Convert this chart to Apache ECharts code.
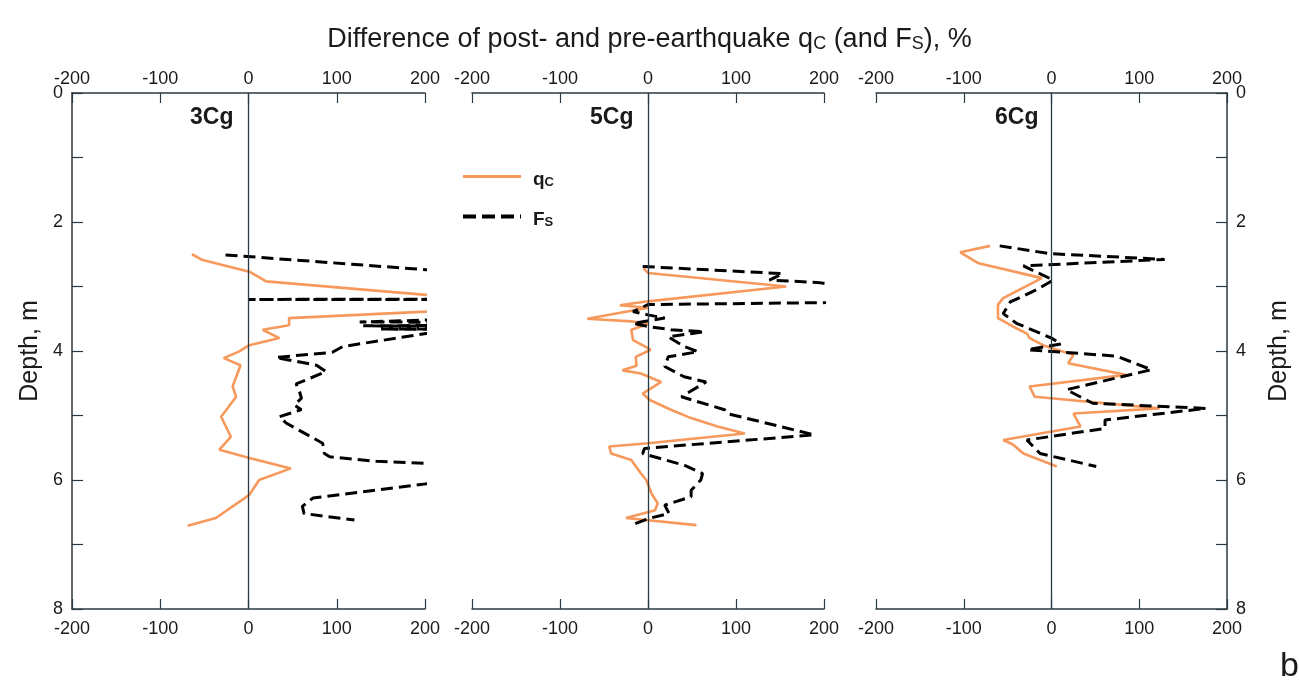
<!DOCTYPE html>
<html>
<head>
<meta charset="utf-8">
<script src="https://cdn.jsdelivr.net/npm/echarts@6/dist/echarts.min.js"></script>
<style>
  html, body { margin: 0; padding: 0; background: #fff; }
  #chart { width: 1299px; height: 687px; }
</style>
</head>
<body>
<div id="chart"></div>
<script>
// tick values
const xTicks = [-200, -100, 0, 100, 200];
const depthMin = 0;
const depthMax = 8;

const panelNames = ['3Cg', '5Cg', '6Cg'];

// [difference %, depth m]; values past 200 run off the panel edge
const qc3 = [[-64,2.50],[-52,2.59],[1,2.77],[20,2.92],[201,3.13],[300,3.25],[201,3.39],[46,3.49],[46,3.60],[16,3.67],[35,3.80],[1,3.91],[-11,4.01],[-28,4.11],[-9,4.22],[-18,4.55],[-14,4.71],[-31,5.02],[-20,5.33],[-33,5.53],[1,5.66],[48,5.82],[12,6.0],[1,6.23],[-37,6.59],[-69,6.71]];
const fs3 = [[-26,2.51],[201,2.74],[1000,3.19],[0,3.20],[1000,3.21],[126,3.55],[600,3.57],[130,3.61],[600,3.63],[150,3.66],[600,3.69],[201,3.73],[107,3.93],[95,4.02],[31,4.10],[77,4.22],[88,4.32],[54,4.51],[58,4.64],[60,4.73],[52,4.84],[60,4.91],[35,5.02],[43,5.12],[84,5.43],[86,5.59],[92,5.64],[145,5.71],[201,5.74],[1000,5.9],[201,6.06],[73,6.28],[61,6.41],[63,6.52],[120,6.62]];

const qc5 = [[-5,2.72],[0,2.79],[157,3.0],[0,3.23],[-32,3.29],[0,3.33],[-69,3.50],[-19,3.54],[0,3.58],[-19,3.67],[-17,3.83],[3,3.98],[-14,4.09],[-13,4.23],[-29,4.30],[-8,4.35],[15,4.48],[-6,4.66],[2,4.76],[26,4.91],[49,5.04],[79,5.17],[110,5.28],[0,5.43],[-44,5.48],[-42,5.59],[-19,5.69],[-8,5.90],[-2,6.0],[4,6.21],[11,6.36],[8,6.47],[-25,6.59],[55,6.70]];
const fs5 = [[-6,2.69],[153,2.80],[138,2.90],[195,2.94],[260,3.1],[202,3.25],[0,3.28],[-17,3.39],[0,3.44],[19,3.49],[-17,3.57],[0,3.62],[26,3.67],[64,3.70],[23,3.78],[41,3.93],[57,4.01],[23,4.09],[19,4.24],[41,4.40],[66,4.48],[38,4.71],[87,4.91],[90,4.97],[189,5.30],[-4,5.51],[-6,5.59],[41,5.77],[62,5.90],[60,6.0],[49,6.16],[49,6.26],[19,6.39],[24,6.52],[0,6.60],[-19,6.70]];

const qc6 = [[-70,2.37],[-104,2.47],[-83,2.64],[-11,2.87],[-55,3.18],[-61,3.28],[-61,3.49],[-44,3.62],[-28,3.73],[-25,3.80],[-8,3.92],[25,4.06],[19,4.19],[85,4.37],[-25,4.55],[-19,4.71],[123,4.89],[25,4.97],[33,5.17],[-55,5.38],[-44,5.45],[-32,5.59],[6,5.79]];
const fs6 = [[-59,2.37],[-2,2.49],[129,2.58],[-32,2.68],[2,2.90],[-17,3.05],[-47,3.24],[-55,3.42],[-40,3.57],[0,3.80],[11,3.89],[-27,3.98],[74,4.08],[114,4.29],[17,4.60],[47,4.81],[176,4.89],[61,5.07],[61,5.20],[-28,5.38],[-13,5.59],[51,5.79]];

const qcData = [qc3, qc5, qc6];
const fsData = [fs3, fs5, fs6];

const FONT = 'Liberation Sans, Arial, sans-serif';
const AXIS_COLOR = '#2b3a42';
const TEXT_COLOR = '#1a1a1a';
const ORANGE = '#f7995c';

const chart = echarts.init(document.getElementById('chart'));

const gridLefts = [72, 472, 876];
const gridWidths = [353, 352, 351];

const grids = gridLefts.map((l, i) => ({
  left: l, top: 93, width: gridWidths[i], height: 516, containLabel: false
}));

const xAxes = [];
gridLefts.forEach((l, i) => {
  ['top', 'bottom'].forEach(pos => {
    xAxes.push({
      type: 'value',
      gridIndex: i,
      position: pos,
      min: xTicks[0],
      max: xTicks[xTicks.length - 1],
      interval: 100,
      axisLine: { show: true, onZero: false, lineStyle: { color: AXIS_COLOR, width: 1.5 } },
      axisTick: { show: true, inside: true, length: 10, lineStyle: { color: AXIS_COLOR, width: 1.2 } },
      axisLabel: { show: true, color: TEXT_COLOR, fontSize: 18, fontFamily: FONT, margin: pos === 'top' ? 5 : 11 },
      splitLine: { show: false }
    });
  });
});

const yAxes = gridLefts.map((l, i) => ({
  type: 'value',
  gridIndex: i,
  show: i !== 1,
  position: i === 2 ? 'right' : 'left',
  inverse: true,
  min: depthMin,
  max: depthMax,
  interval: 1,
  name: 'Depth, m',
  nameLocation: 'middle',
  nameGap: i === 2 ? 40 : 29,
  nameTextStyle: { color: TEXT_COLOR, fontSize: 25, fontFamily: FONT },
  axisLine: { show: true, onZero: false, lineStyle: { color: AXIS_COLOR, width: 1.5 } },
  axisTick: { show: true, inside: true, length: 11, lineStyle: { color: AXIS_COLOR, width: 1.2 } },
  axisLabel: {
    color: TEXT_COLOR, fontSize: 18, fontFamily: FONT, margin: 9,
    formatter: v => (v % 2 === 0 ? String(v) : '')
  },
  splitLine: { show: false }
}));

const series = [];
for (let i = 0; i < 3; i++) {
  series.push({
    name: 'qC',
    type: 'line',
    xAxisIndex: i * 2 + 1,
    yAxisIndex: i,
    data: qcData[i],
    symbol: 'none',
    clip: true,
    lineStyle: { color: ORANGE, width: 2.6 },
    itemStyle: { color: ORANGE },
    z: 3,
    markLine: {
      silent: true,
      symbol: 'none',
      label: { show: false },
      lineStyle: { color: AXIS_COLOR, width: 1.3, type: 'solid' },
      data: [{ xAxis: 0 }]
    }
  });
  series.push({
    name: 'FS',
    type: 'line',
    xAxisIndex: i * 2 + 1,
    yAxisIndex: i,
    data: fsData[i],
    symbol: 'none',
    clip: true,
    lineStyle: { color: '#000', width: 3, type: [12, 6] },
    itemStyle: { color: '#000' },
    z: 4
  });
}

const option = {
  backgroundColor: '#fff',
  animation: false,
  title: {
    text: '{m|Difference of post- and pre-earthquake q}{s|C}{m| (and F}{s|S}{m|), %}',
    left: 'center',
    top: 12,
    textStyle: {
      rich: {
        m: { fontSize: 27, fontWeight: 'normal', fontFamily: FONT, color: TEXT_COLOR, verticalAlign: 'bottom' },
        s: { fontSize: 18, fontWeight: 'normal', fontFamily: FONT, color: TEXT_COLOR, verticalAlign: 'bottom', padding: [18, 0, 0, 0] }
      }
    }
  },
  legend: {
    data: [
      { name: 'qC', lineStyle: { width: 3 } },
      { name: 'FS', lineStyle: { width: 4, type: [13, 6] } }
    ],
    orient: 'vertical',
    left: 461,
    top: 170,
    padding: 0,
    itemWidth: 58,
    itemHeight: 14,
    itemGap: 21,
    itemStyle: { opacity: 0 },
    formatter: n => (n === 'qC' ? '{m|q}{s|C}' : '{m|F}{s|S}'),
    textStyle: {
      padding: [0, 0, 0, 7],
      rich: {
        m: { fontSize: 19, fontWeight: 'bold', fontFamily: FONT, color: TEXT_COLOR, verticalAlign: 'bottom' },
        s: { fontSize: 13, fontWeight: 'bold', fontFamily: FONT, color: TEXT_COLOR, verticalAlign: 'bottom', padding: [12, 0, 0, 0] }
      }
    }
  },
  grid: grids,
  xAxis: xAxes,
  yAxis: yAxes,
  graphic: [
    ...panelNames.map((t, i) => ({
      type: 'text',
      left: [190, 590, 995][i],
      top: 106,
      style: { text: t, fontSize: 23, fontWeight: 'bold', fontFamily: FONT, fill: TEXT_COLOR }
    })),
    {
      type: 'text', left: 1280, top: 650,
      style: { text: 'b', fontSize: 34, fontFamily: FONT, fill: TEXT_COLOR }
    }
  ],
  series: series
};

chart.setOption(option);
</script>
</body>
</html>
